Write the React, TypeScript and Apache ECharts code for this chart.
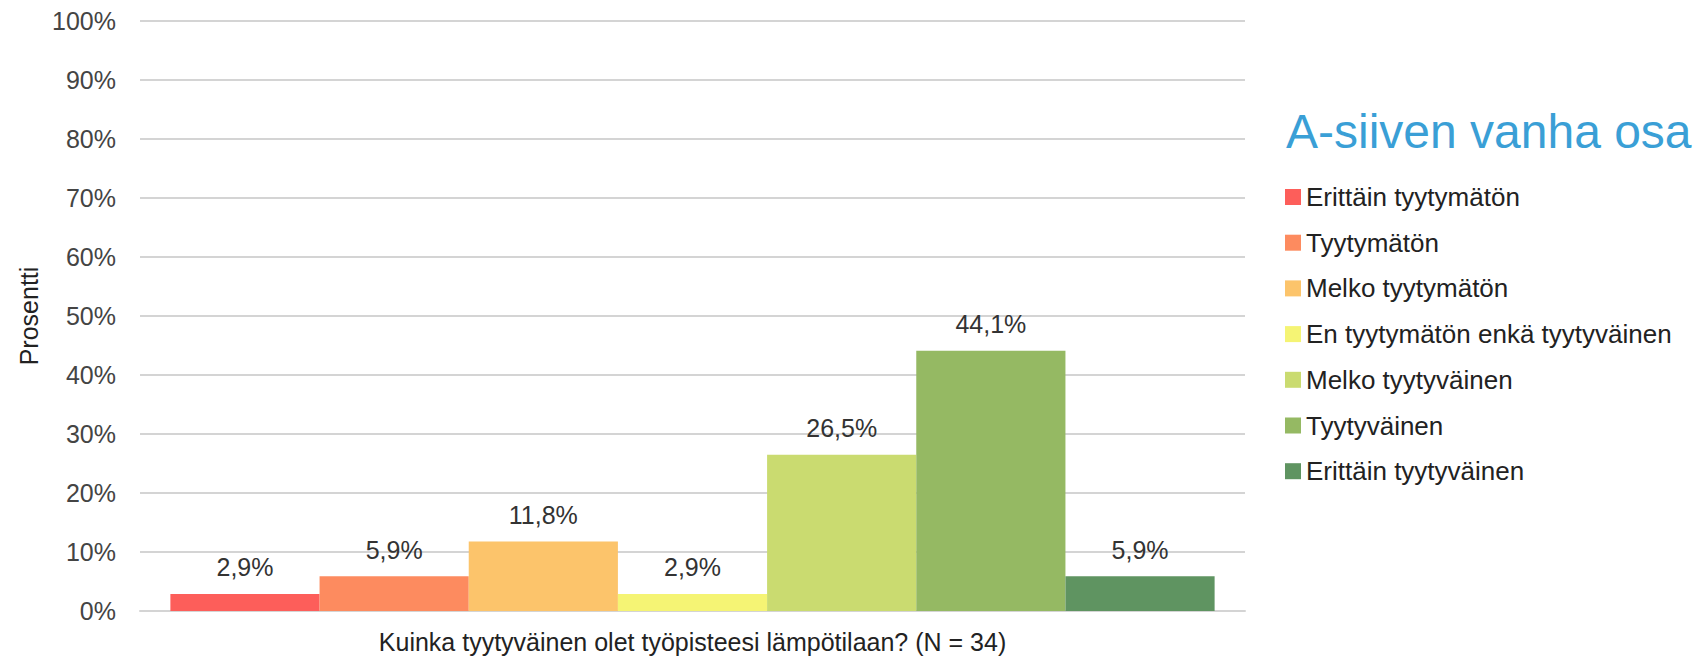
import React, { useEffect, useRef } from "react";
import * as echarts from "echarts";

const categories = [""];
const seriesNames = [
  "Erittäin tyytymätön",
  "Tyytymätön",
  "Melko tyytymätön",
  "En tyytymätön enkä tyytyväinen",
  "Melko tyytyväinen",
  "Tyytyväinen",
  "Erittäin tyytyväinen",
];
const seriesValues = [2.9, 5.9, 11.8, 2.9, 26.5, 44.1, 5.9];
const seriesColors = [
  "#fd5e5a",
  "#fd8b5f",
  "#fcc46b",
  "#f5f474",
  "#cadb70",
  "#95b963",
  "#5f9461",
];
const titleText = "A-siiven vanha osa";
const xAxisName = "Kuinka tyytyväinen olet työpisteesi lämpötilaan? (N = 34)";
const yAxisName = "Prosentti";

const FONT = "'Liberation Sans', Arial, sans-serif";

export default function App() {
  const ref = useRef<HTMLDivElement>(null);
  useEffect(() => {
    document.body.style.margin = "0";
    const chart = echarts.init(ref.current!, null, { renderer: "svg" });
    chart.setOption({
      animation: false,
      backgroundColor: "#ffffff",
      textStyle: { fontFamily: FONT },
      title: {
        text: titleText,
        left: 1281,
        top: 102,
        textStyle: { fontFamily: FONT, fontSize: 48, fontWeight: "normal", color: "#3a9fd6" },
      },
      legend: {
        orient: "vertical",
        left: 1280,
        top: 179,
        itemWidth: 16,
        itemHeight: 16,
        itemGap: 19.7,
        icon: "rect",
        textStyle: { fontFamily: FONT, fontSize: 26, color: "#222", lineHeight: 26 },
        data: seriesNames,
      },
      grid: { left: 140, right: 452, top: 21, bottom: 49 },
      xAxis: {
        type: "category",
        data: categories,
        name: xAxisName,
        nameLocation: "middle",
        nameGap: 18,
        nameTextStyle: { fontFamily: FONT, fontSize: 25, color: "#222" },
        axisLine: { lineStyle: { color: "#d4d4d4", width: 2 } },
        axisTick: { show: false },
        axisLabel: { show: false },
      },
      yAxis: {
        type: "value",
        min: 0,
        max: 100,
        interval: 10,
        name: yAxisName,
        nameLocation: "middle",
        nameRotate: 90,
        nameGap: 99,
        nameTextStyle: { fontFamily: FONT, fontSize: 25, color: "#222" },
        axisLabel: { formatter: "{value}%", fontSize: 25, color: "#444", margin: 24, fontFamily: FONT },
        splitLine: { lineStyle: { color: "#d4d4d4", width: 2 } },
        axisLine: { show: false },
        axisTick: { show: false },
      },
      series: seriesNames.map((name, i) => ({
        name,
        type: "bar",
        data: [seriesValues[i]],
        barGap: "0%",
        barCategoryGap: "5.5%",
        itemStyle: { color: seriesColors[i] },
        label: {
          show: true,
          position: "top",
          distance: 14,
          fontSize: 25,
          color: "#333",
          fontFamily: FONT,
          formatter: (p: any) => p.value.toFixed(1).replace(".", ",") + "%",
        },
      })),
    });
    return () => chart.dispose();
  }, []);
  return <div ref={ref} style={{ width: 1697, height: 660 }} />;
}
